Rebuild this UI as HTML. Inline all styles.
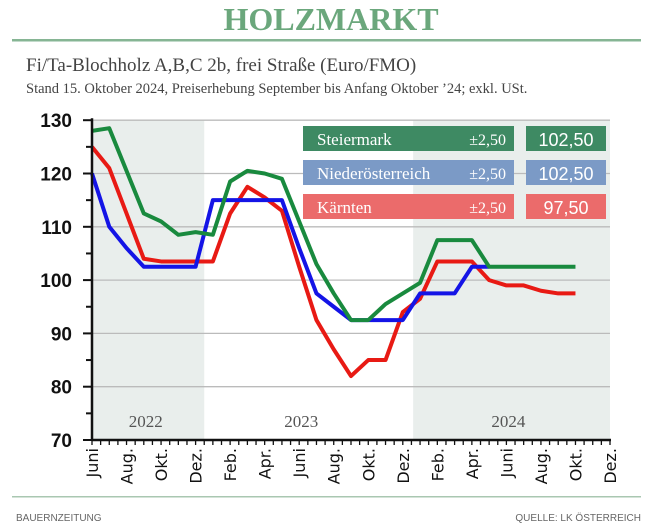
<!DOCTYPE html>
<html><head><meta charset="utf-8"><style>
body{margin:0;background:#fff;width:660px;height:530px;overflow:hidden}
svg{display:block}
</style></head><body>
<svg id="c" width="660" height="530" font-family="Liberation Sans, sans-serif">
<text x="331" y="30" text-anchor="middle" font-family="Liberation Serif, serif" font-weight="bold" font-size="32" fill="#6ba77c">HOLZMARKT</text>
<rect x="12" y="39" width="629" height="2.5" fill="#86b594"/>
<text x="26" y="71" font-family="Liberation Serif, serif" font-size="19" fill="#444">Fi/Ta-Blochholz A,B,C 2b, frei Straße (Euro/FMO)</text>
<text x="26" y="93" font-family="Liberation Serif, serif" font-size="14.5" fill="#444">Stand 15. Oktober 2024, Preiserhebung September bis Anfang Oktober ’24; exkl. USt.</text>
<g id="plot"></g>
<rect x="12" y="496" width="629" height="1.5" fill="#a9c7b1"/>
<text x="16" y="521" font-size="10" fill="#666">BAUERNZEITUNG</text>
<text x="641" y="521" text-anchor="end" font-size="10" fill="#666">QUELLE: LK ÖSTERREICH</text>
</svg>
<script>
const monthLabels=["Juni","Aug.","Okt.","Dez.","Feb.","Apr.","Juni","Aug.","Okt.","Dez.","Feb.","Apr.","Juni","Aug.","Okt.","Dez."];
const yTicks=[70,80,90,100,110,120,130];
const yearLabels=["2022","2023","2024"];
const steiermark=[128,128.5,120.5,112.5,111,108.5,109,108.5,118.5,120.5,120,119,111,103,97.5,92.5,92.5,95.5,97.5,99.5,107.5,107.5,107.5,102.5,102.5,102.5,102.5,102.5,102.5];
const niederoesterreich=[120,110,106,102.5,102.5,102.5,102.5,115,115,115,115,115,106,97.5,95,92.5,92.5,92.5,92.5,97.5,97.5,97.5,102.5,102.5];
const kaernten=[125,121,112.5,104,103.5,103.5,103.5,103.5,112.5,117.5,115.5,113,102.5,92.5,87,82,85,85,94,96.5,103.5,103.5,103.5,100,99,99,98,97.5,97.5];
const legendNames=["Steiermark","Niederösterreich","Kärnten"];
const legendRange=["±2,50","±2,50","±2,50"];
const legendValues=["102,50","102,50","97,50"];

const NS="http://www.w3.org/2000/svg";
const g=document.getElementById('plot');
const X0=92,XW=(610-92)/30,Y70=440,YU=5.33;
const x=i=>X0+i*XW;
const y=v=>Y70-(v-70)*YU;
function el(t,a,p){const e=document.createElementNS(NS,t);for(const k in a)e.setAttribute(k,a[k]);(p||g).appendChild(e);return e;}

let s=el('rect',{x:x(0),y:y(130),width:x(6.5)-x(0),height:y(70)-y(130),fill:'#e9eeec'});


s=el('rect',{x:x(18.6),y:y(130),width:x(30)-x(18.6),height:y(70)-y(130),fill:'#e9eeec'});


yTicks.forEach(v=>{
  if(v>70){const l=el('line',{x1:x(0),x2:x(30),y1:y(v),y2:y(v),stroke:'#bbb','stroke-width':1.3});
  
  }
  const t=el('text',{x:72,y:y(v)+7,'text-anchor':'end','font-size':19,'font-weight':'bold',fill:'#111'});
  t.textContent=v;
  
  
});
for(let v=70;v<=130;v+=5){el('line',{x1:v%10?86:83,x2:x(0),y1:y(v),y2:y(v),stroke:'#111','stroke-width':2});}
[[3,0],[12,1],[24,2]].forEach(([m,k])=>{
  const t=el('text',{x:x(m)+2,y:y(73)+3,'text-anchor':'middle','font-family':'Liberation Serif, serif','font-size':17,fill:'#555'});
  t.textContent=yearLabels[k];
  
  
});
const boxCol=['#3e8a63','#7b9ac6','#eb6b6b'];
legendNames.forEach((n,i)=>{
  const yy=126+i*34;
  let r=el('rect',{x:303,y:yy,width:211,height:25,fill:boxCol[i]});
  
  
  let t=el('text',{x:317,y:yy+19,'font-family':'Liberation Serif, serif','font-size':17,fill:'#fff'});t.textContent=n;
  
  
  t=el('text',{x:506,y:yy+19,'text-anchor':'end','font-family':'Liberation Serif, serif','font-size':16,fill:'#fff'});t.textContent=legendRange[i];
  
  
  r=el('rect',{x:526,y:yy,width:80,height:25,fill:boxCol[i]});
  
  
  t=el('text',{x:566,y:yy+20,'text-anchor':'middle','font-size':18,fill:'#fff'});t.textContent=legendValues[i];
  
  
});
[[kaernten,'#e81a14','line-kaernten'],[niederoesterreich,'#1414e6','line-niederoesterreich'],[steiermark,'#198a3e','line-steiermark']].forEach(([d,c,n])=>{
  const p=el('polyline',{points:d.map((v,i)=>x(i)+','+y(v)).join(' '),fill:'none',stroke:c,'stroke-width':4,'stroke-linejoin':'round'});
  
  
});
let a=el('line',{x1:x(0),x2:x(0),y1:y(130)-2,y2:y(70),stroke:'#111','stroke-width':2.5});


a=el('line',{x1:x(0),x2:x(30)+1,y1:y(70),y2:y(70),stroke:'#111','stroke-width':2.5});


for(let h=0;h<=60;h++){el('line',{x1:x(h/2),x2:x(h/2),y1:y(70),y2:y(70)+5,stroke:'#111','stroke-width':1.3});}
monthLabels.forEach((m,i)=>{
  const xx=x(i*2)+6,yy=448;
  const t=el('text',{x:xx,y:yy,transform:`rotate(-90 ${xx} ${yy})`,'text-anchor':'end','font-size':16,'font-family':'DejaVu Sans, sans-serif',fill:'#111'});
  t.textContent=m;
  
  
});
</script>
</body></html>
